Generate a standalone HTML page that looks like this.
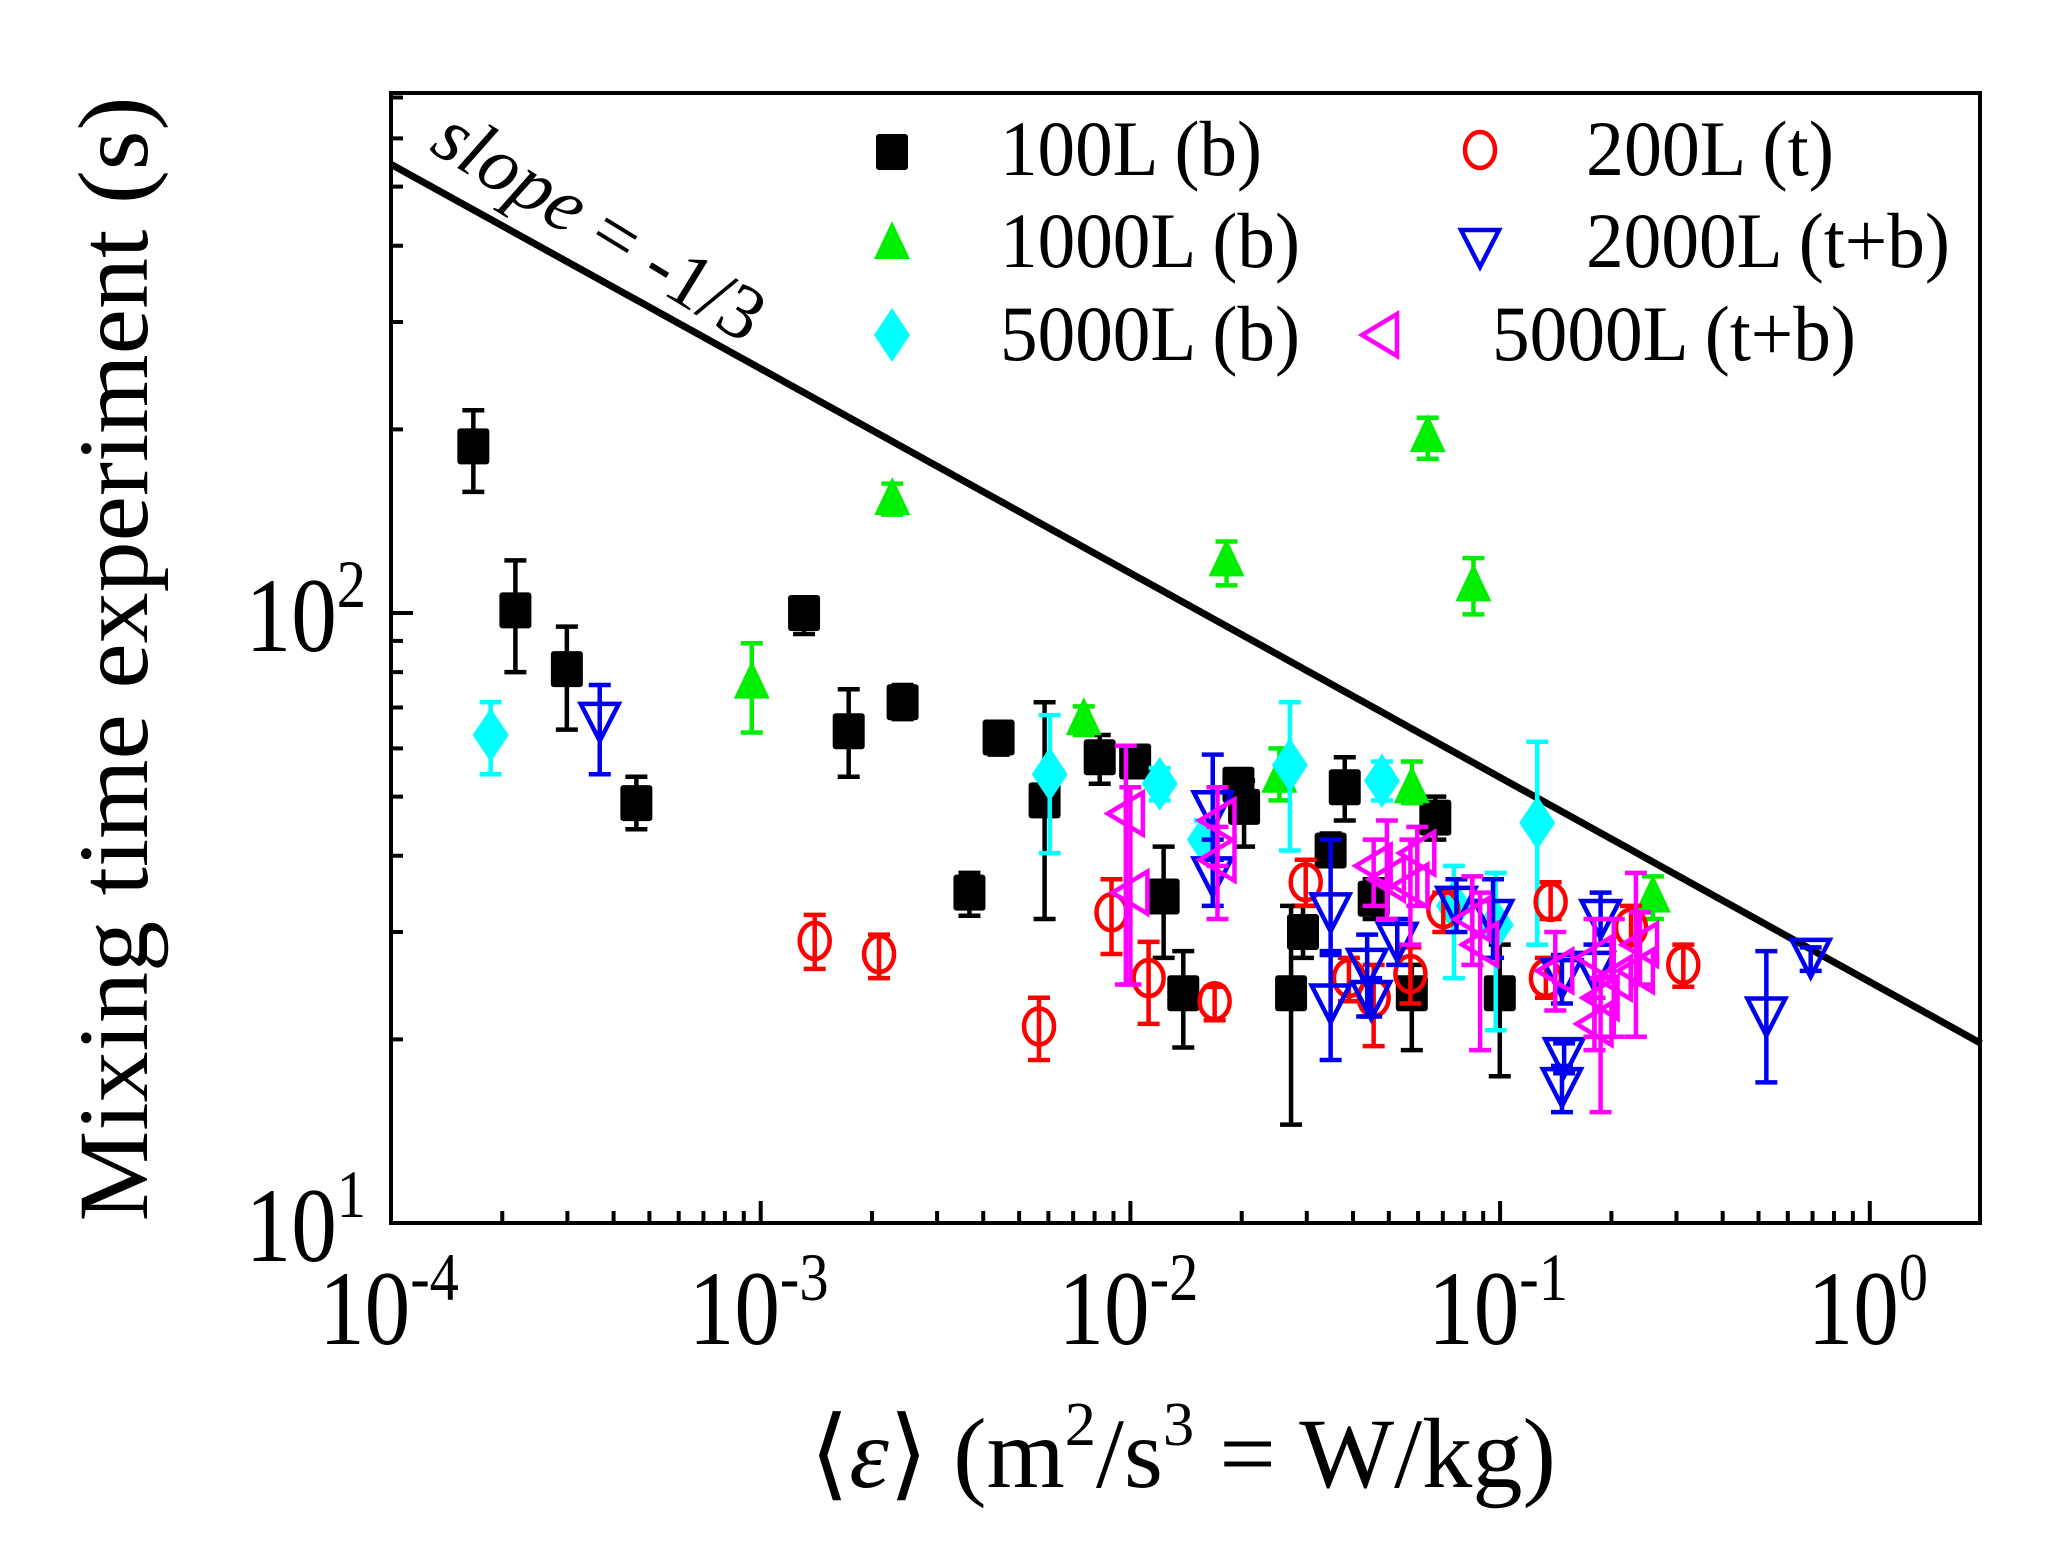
<!DOCTYPE html>
<html><head><meta charset="utf-8"><style>
html,body{margin:0;padding:0;background:#fff;}
svg{display:block;font-family:"Liberation Serif",serif;}
</style></head><body>
<svg id="chart" xmlns="http://www.w3.org/2000/svg" width="2055" height="1542" viewBox="0 0 2055 1542">
<rect x="0" y="0" width="2055" height="1542" fill="#fff"/>
<g id="marks"></g>
<g id="axes"></g>
</svg>
<script>
// ---- data ----
const xTickExps = [-4, -3, -2, -1, 0];
const yTickExps = [1, 2];
const slopeLine = [[1e-4, 544], [2, 19.7]];

const b100x = [1.67e-4,2.17e-4,2.99e-4,4.61e-4,1.31e-3,1.73e-3,2.42e-3,3.67e-3,4.40e-3,5.86e-3,8.26e-3,1.03e-2,1.23e-2,1.39e-2,1.96e-2,2.03e-2,2.72e-2,2.93e-2,3.48e-2,3.80e-2,4.55e-2,5.77e-2,6.68e-2,9.98e-2];
const b100y = [187.6,101,80.9,48.8,100,64,71.4,34.8,62.5,49.3,58,57.1,34.3,23.8,52.3,48.1,23.8,30,40.8,51.8,34,23.8,46.2,23.8];
const b100lo = [158,80,64.4,44.2,92.4,53.9,67,31.9,58.6,31.5,52.5,53.9,27.2,19.4,48.8,41.4,14.5,27.2,38.5,45.7,31.5,19.2,42.5,17.4];
const b100hi = [215,122,95,53.9,106,75,76.2,37.5,66.3,71.4,63.1,60,41.4,27.9,54.9,53.1,33.1,33.1,43.5,58,36.6,26.5,50,28.6];

const g1000x = [9.46e-4,2.27e-3,7.48e-3,1.82e-2,2.53e-2,5.77e-2,6.37e-2,8.47e-2,0.259];
const g1000y = [76.9,153.8,67,122,53.9,51.8,195,111,34.3];
const g1000lo = [63.7,145,63.1,111,49.3,48.8,179,99.5,31.5];
const g1000hi = [89.2,163,70.3,131,60,57.1,209,123,37];

const c5000x = [1.86e-4,6.05e-3,1.20e-2,1.59e-2,2.70e-2,4.79e-2,7.50e-2,9.73e-2,0.126];
const c5000y = [63.1,54.4,52.5,42.5,56.3,53.1,33.1,30.8,45.3];
const c5000lo = [54.4,40.4,49.3,39.4,40.8,49.3,25.2,20.7,28.6];
const c5000hi = [71.4,68,55.7,45.7,71.4,57.1,38.5,37.5,61.5];

const r200x = [1.40e-3,2.09e-3,5.66e-3,8.89e-3,1.12e-2,1.69e-2,2.98e-2,4.55e-2,5.72e-2,7.02e-2,0.137,0.133,0.226,0.313,3.90e-2];
const r200y = [29,27.6,21,32.3,25.2,23.1,36.2,23.4,25.6,32.7,33.6,25.2,30.5,26.5,25.2];
const r200lo = [26.1,25.2,18.5,27.6,21.2,21.5,33.1,19.5,22.9,30,31.5,23.4,28.6,24.4,23.1];
const r200hi = [32,29.7,23.4,36.6,28.9,24.4,39.4,26.5,28.3,34.8,36.2,27.2,33.1,28.6,27.2];

const b2000x = [3.67e-4,1.67e-2,1.67e-2,3.48e-2,3.48e-2,4.37e-2,4.48e-2,5.27e-2,7.62e-2,9.57e-2,0.147,0.149,0.147,0.187,0.180,0.525,0.692];
const b2000y = [66.3,47.5,37,32.3,22.9,26.2,23.2,28.9,33.1,31.5,25.2,18.7,16.7,31.5,25.9,21.8,27.2];
const b2000lo = [54.4,39.4,33.1,27.9,18.5,21.8,21.8,26.5,30,27.2,22.9,17.6,15.2,28.6,23.4,17,25.9];
const b2000hi = [76.2,58.6,42.5,42.5,27.5,29.7,25.2,31.5,36.6,36.6,27.5,19.7,18.1,34.8,28.6,27.9,28.3];

const m5000x = [9.72e-3,1.0e-2,1.72e-2,1.72e-2,4.55e-2,4.94e-2,5.72e-2,5.97e-2,8.41e-2,8.83e-2,0.141,0.180,0.187,0.180,0.239,0.233,0.203];
const m5000y = [46.9,34.8,45.7,39.4,38.5,36.6,35.7,40.4,31.5,28.6,25.9,27.2,23.4,21.2,28.6,25.9,25.2];
const m5000lo = [24.6,24.6,38.5,31.5,33.1,31.5,28.6,33.1,26.5,19.2,22.3,20.2,15.2,19.2,24.6,20.2,20.2];
const m5000hi = [60.6,51.8,51.8,44.6,42.5,45.7,42.5,44.6,37,34.8,30,31.5,25.2,23.4,32.3,37.5,31.5];

// ---- layout ----
const L = 391, R = 1980, T = 93, B = 1223;
const XDEC = 369.7, YDEC = 610;
const xs = v => L + (Math.log10(v) + 4) * XDEC;
const ys = v => B - (Math.log10(v) - 1) * YDEC;
const NS = "http://www.w3.org/2000/svg";
const marks = document.getElementById('marks');
const axes = document.getElementById('axes');
function mk(tag, attrs, parent) {
  const e = document.createElementNS(NS, tag);
  for (const k in attrs) e.setAttribute(k, attrs[k]);
  parent.appendChild(e);
  return e;
}

// slope line
const sl = mk('line', {x1: xs(slopeLine[0][0]), y1: ys(slopeLine[0][1]), x2: xs(slopeLine[1][0]), y2: ys(slopeLine[1][1]), stroke: '#000', 'stroke-width': 7}, marks);


const st = mk('text', {x: 0, y: 0, 'font-size': 78, transform: 'translate(428,150) rotate(31.5)', textLength: 372, lengthAdjust: 'spacingAndGlyphs'}, marks);
st.innerHTML = '<tspan font-style="italic">slope</tspan> = -1/3';



function marker(type, color, cx, cy, g) {
  if (type === 'square') return mk('rect', {x: cx - 16, y: cy - 18, width: 32, height: 36, rx: 3, fill: color}, g);
  if (type === 'tri') return mk('polygon', {points: `${cx},${cy-22} ${cx-18},${cy+16} ${cx+18},${cy+16}`, fill: color}, g);
  if (type === 'diamond') return mk('polygon', {points: `${cx},${cy-27} ${cx-18},${cy} ${cx},${cy+27} ${cx+18},${cy}`, fill: color}, g);
  if (type === 'circle') return mk('ellipse', {cx: cx, cy: cy, rx: 15, ry: 18, fill: 'none', stroke: color, 'stroke-width': 4.5}, g);
  if (type === 'down') return mk('polygon', {points: `${cx-19},${cy-18} ${cx+19},${cy-18} ${cx},${cy+19}`, fill: 'none', stroke: color, 'stroke-width': 4.5}, g);
  if (type === 'left') return mk('polygon', {points: `${cx-18},${cy} ${cx+17},${cy-21} ${cx+17},${cy+21}`, fill: 'none', stroke: color, 'stroke-width': 4.5}, g);
}

const series = [
  {name: 'series-100l-b', type: 'square', color: '#000', x: b100x, y: b100y, lo: b100lo, hi: b100hi},
  {name: 'series-1000l-b', type: 'tri', color: '#00ee00', x: g1000x, y: g1000y, lo: g1000lo, hi: g1000hi},
  {name: 'series-5000l-b', type: 'diamond', color: '#00ffff', x: c5000x, y: c5000y, lo: c5000lo, hi: c5000hi},
  {name: 'series-200l-t', type: 'circle', color: '#ff0000', x: r200x, y: r200y, lo: r200lo, hi: r200hi},
  {name: 'series-2000l-tb', type: 'down', color: '#0000ee', x: b2000x, y: b2000y, lo: b2000lo, hi: b2000hi},
  {name: 'series-5000l-tb', type: 'left', color: '#ff00ff', x: m5000x, y: m5000y, lo: m5000lo, hi: m5000hi}
];
series.forEach(s => {
  const g = mk('g', {}, marks);
  
  
  for (let i = 0; i < s.x.length; i++) {
    const cx = xs(s.x[i]), cy = ys(s.y[i]), yl = ys(s.lo[i]), yh = ys(s.hi[i]);
    const eb = mk('path', {d: `M${cx},${yl}V${yh}M${cx-11},${yl}H${cx+11}M${cx-11},${yh}H${cx+11}`, stroke: s.color, 'stroke-width': 4.5, fill: 'none'}, g);
    
    
    const m = marker(s.type, s.color, cx, cy, g);
    
    
  }
});

// legend
const legend = mk('g', {}, marks);


const legendItems = [
  ['square', '#000', 892, 152, '100L (b)', 1000, 175, 262],
  ['tri', '#00ee00', 892, 243, '1000L (b)', 1000, 267, 300],
  ['diamond', '#00ffff', 892, 335, '5000L (b)', 1000, 360, 300],
  ['circle', '#ff0000', 1480, 150, '200L (t)', 1586, 175, 248],
  ['down', '#0000ee', 1480, 248, '2000L (t+b)', 1586, 267, 364],
  ['left', '#ff00ff', 1380, 335, '5000L (t+b)', 1492, 360, 364]
];
legendItems.forEach(it => {
  const m = marker(it[0], it[1], it[2], it[3], legend);
  
  
  const t = mk('text', {x: it[5], y: it[6], 'font-size': 78, textLength: it[7], lengthAdjust: 'spacingAndGlyphs'}, legend);
  t.textContent = it[4];
  
  
});

// axes frame
const fr = mk('rect', {x: L, y: T, width: R - L, height: B - T, fill: 'none', stroke: '#000', 'stroke-width': 4}, axes);



// ticks
let tp = '';
for (let e = -4; e <= 0; e++) {
  for (let k = 1; k <= 9; k++) {
    const x = xs(k * Math.pow(10, e));
    if (x > R) break;
    tp += `M${x},${B}V${B - (k === 1 ? 22 : 12)}`;
  }
}
for (let e = 1; e <= 2; e++) {
  for (let k = 1; k <= 9; k++) {
    const y = ys(k * Math.pow(10, e));
    if (y < T) break;
    tp += `M${L},${y}H${L + (k === 1 ? 22 : 12)}`;
  }
}
const ticks = mk('path', {d: tp, stroke: '#000', 'stroke-width': 4, fill: 'none'}, axes);



xTickExps.forEach(e => {
  const x = xs(Math.pow(10, e));
  const t = mk('text', {x: 0, y: 0, 'font-size': 106, 'text-anchor': 'middle', transform: `translate(${x - 2},1344) scale(0.86,1)`}, axes);
  t.innerHTML = `10<tspan font-size="68" dy="-44">${e}</tspan>`;
  
  
});
yTickExps.forEach(e => {
  const y = ys(Math.pow(10, e));
  const t = mk('text', {x: 0, y: 0, 'font-size': 106, 'text-anchor': 'end', transform: `translate(366,${y + 38}) scale(0.86,1)`}, axes);
  t.innerHTML = `10<tspan font-size="68" dy="-44">${e}</tspan>`;
  
  
});

const yt = mk('text', {x: 0, y: 0, 'font-size': 100, 'text-anchor': 'middle', transform: 'translate(147,659) rotate(-90)', textLength: 1125, lengthAdjust: 'spacingAndGlyphs'}, axes);
yt.textContent = 'Mixing time experiment (s)';



const xt = mk('text', {x: 810, y: 1487, 'font-size': 100, textLength: 746, lengthAdjust: 'spacingAndGlyphs'}, axes);
xt.innerHTML = '⟨<tspan font-style="italic">ε</tspan>⟩ (m<tspan font-size="62" dy="-42">2</tspan><tspan dy="42">/s</tspan><tspan font-size="62" dy="-42">3</tspan><tspan dy="42"> = W/kg)</tspan>';


</script>
</body></html>
